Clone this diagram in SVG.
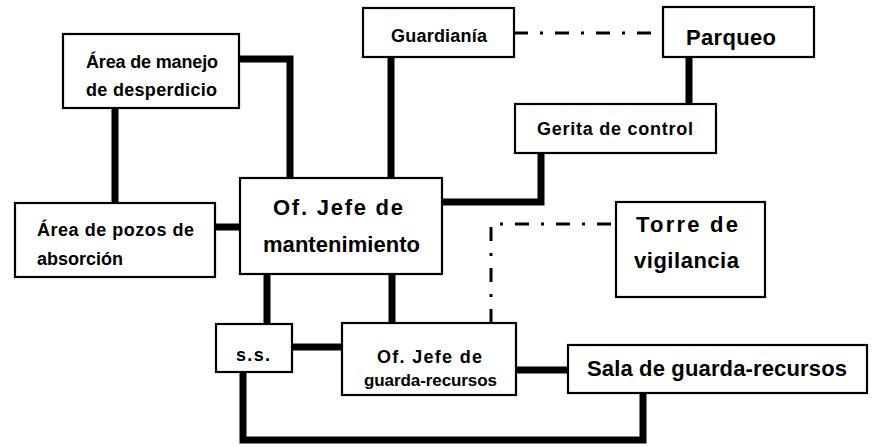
<svg xmlns="http://www.w3.org/2000/svg" width="874" height="447" viewBox="0 0 874 447">
<style>
.box{fill:#fff;stroke:#000;stroke-width:2.2}
.c{fill:none;stroke:#000;stroke-width:7;stroke-linejoin:miter}
.d{fill:none;stroke:#000;stroke-width:3;stroke-dasharray:14 12 3 12}
text{font-family:"Liberation Sans",Arial,sans-serif;font-weight:bold;fill:#000}
.s{font-size:18px}
.t{font-size:17px}
.l{font-size:22px}
</style>
<rect width="874" height="447" fill="#fff"/>
<g id="connectors">
<polyline class="c" points="239,59 290,59 290,178"/>
<line class="c" x1="115" y1="108" x2="115" y2="203"/>
<line class="c" x1="215" y1="227" x2="240" y2="227"/>
<line class="c" x1="391" y1="57" x2="391" y2="178"/>
<polyline class="c" points="442,202 541,202 541,153"/>
<line class="c" x1="689" y1="57" x2="689" y2="104"/>
<line class="c" x1="267" y1="274" x2="267" y2="324"/>
<line class="c" x1="392" y1="274" x2="392" y2="323"/>
<line class="c" x1="292" y1="347" x2="342" y2="347"/>
<line class="c" x1="516" y1="370" x2="568" y2="370"/>
<polyline class="c" points="243,372 243,440 643,440 643,393"/>
<line class="d" x1="514" y1="33" x2="663" y2="33"/>
<polyline class="d" points="491,323 491,224 616,224"/>
</g>
<g id="n-manejo">
<rect class="box" x="63" y="34" width="176" height="74"/>
<text class="s" x="86" y="68" textLength="132" lengthAdjust="spacing">Área de manejo</text>
<text class="s" x="86" y="96" textLength="131" lengthAdjust="spacing">de desperdicio</text>
</g>
<g id="n-pozos">
<rect class="box" x="15" y="203" width="200" height="74"/>
<text class="s" x="37" y="236" textLength="157" lengthAdjust="spacing">Área de pozos de</text>
<text class="s" x="37" y="265" textLength="86" lengthAdjust="spacing">absorción</text>
</g>
<g id="n-jefe-mant">
<rect class="box" x="240" y="178" width="202" height="96"/>
<text class="l" x="273" y="215" textLength="130" lengthAdjust="spacing">Of. Jefe de</text>
<text class="l" x="263" y="252" textLength="157" lengthAdjust="spacing">mantenimiento</text>
</g>
<g id="n-guardiania">
<rect class="box" x="363" y="8" width="151" height="49"/>
<text class="s" x="391" y="42" textLength="96" lengthAdjust="spacing">Guardianía</text>
</g>
<g id="n-parqueo">
<rect class="box" x="663" y="7" width="151" height="50"/>
<text class="l" x="686" y="45" textLength="90" lengthAdjust="spacing">Parqueo</text>
</g>
<g id="n-garita">
<rect class="box" x="515" y="104" width="201" height="49"/>
<text class="s" x="537" y="135" textLength="156" lengthAdjust="spacing">Gerita de control</text>
</g>
<g id="n-torre">
<rect class="box" x="616" y="202" width="149" height="95"/>
<text class="l" x="636" y="232" textLength="102" lengthAdjust="spacing">Torre de</text>
<text class="l" x="634" y="268" textLength="105" lengthAdjust="spacing">vigilancia</text>
</g>
<g id="n-ss">
<rect class="box" x="216" y="324" width="76" height="48"/>
<text class="s" x="236" y="361" textLength="34" lengthAdjust="spacing">s.s.</text>
</g>
<g id="n-jefe-guarda">
<rect class="box" x="342" y="323" width="174" height="72"/>
<text class="s" x="377" y="363" textLength="105" lengthAdjust="spacing">Of. Jefe de</text>
<text class="t" x="364" y="386" textLength="133" lengthAdjust="spacing">guarda-recursos</text>
</g>
<g id="n-sala">
<rect class="box" x="568" y="345" width="299" height="48"/>
<text class="l" x="587" y="376" textLength="260" lengthAdjust="spacing">Sala de guarda-recursos</text>
</g>
</svg>
